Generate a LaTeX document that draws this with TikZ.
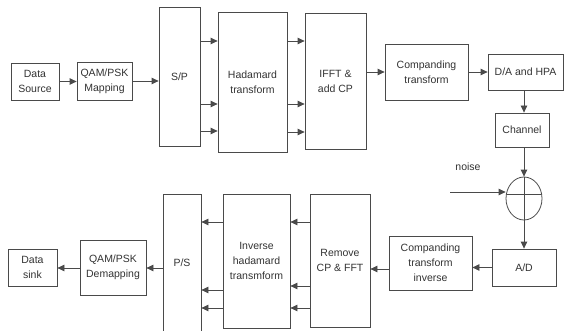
\documentclass[tikz,border=0pt]{standalone}
\usepackage{fontspec}
\setmainfont{Liberation Sans}
\usetikzlibrary{arrows.meta,shapes.geometric}
\definecolor{edge}{HTML}{4A4A4A}
\definecolor{ink}{HTML}{333333}
\begin{document}
\begin{tikzpicture}[x=1pt,y=-1pt,
  blk/.style={draw=edge,line width=0.8pt,rectangle,inner sep=0pt,align=center,
    text=ink,font=\fontsize{10.5}{15}\selectfont},
  arr/.style={draw=edge,line width=0.8pt,-{Triangle[length=7pt,width=6.5pt]}},
  ln/.style={draw=edge,line width=0.8pt}]
\clip (0,0) rectangle (564,331);
\fill[white] (0,0) rectangle (564,331);

% transmitter chain
\node[blk,minimum width=48,minimum height=37] (ds) at (35,81.5) {Data\\Source};
\node[blk,minimum width=55,minimum height=38] (map) at (104.5,81) {QAM/PSK\\Mapping};
\node[blk,minimum width=41,minimum height=139] (sp) at (179.5,76.5) {S/P};
\node[blk,minimum width=69,minimum height=140] (had) at (252.5,82) {Hadamard\\transform};
\node[blk,minimum width=61,minimum height=136] (ifft) at (335.5,81) {IFFT \&\\add CP};
\node[blk,minimum width=83,minimum height=56] (comp) at (426.5,72) {Companding\\transform};
\node[blk,minimum width=75,minimum height=36] (da) at (525.5,72) {D/A and HPA};
\node[blk,minimum width=54,minimum height=34] (ch) at (522,130) {Channel};

% noise adder
\node[draw=edge,line width=0.8pt,ellipse,minimum width=36,minimum height=43,inner sep=0pt] (sum) at (524,198.5) {};
\begin{scope}
  \clip (sum.center) ellipse [x radius=18pt,y radius=21.5pt];
  \draw[ln] (sum.west |- 0,194) -- (sum.east |- 0,194);
\end{scope}
\draw[ln] (sum.north) -- (sum.south);
\node[text=ink,font=\fontsize{10.5}{15}\selectfont] (nzlbl) at (468,167) {noise};
\coordinate (nz) at (450,192);

% receiver chain
\node[blk,minimum width=64,minimum height=37] (ad) at (524,267.5) {A/D};
\node[blk,minimum width=83,minimum height=54] (cinv) at (430.5,263) {Companding\\transform\\inverse};
\node[blk,minimum width=60,minimum height=133] (rem) at (340,260.5) {Remove\\CP \& FFT};
\node[blk,minimum width=67,minimum height=134] (ihad) at (256.5,261) {Inverse\\hadamard\\transmform};
\node[blk,minimum width=38,minimum height=138] (ps) at (182,263) {P/S};
\node[blk,minimum width=66,minimum height=55] (demap) at (113,267.5) {QAM/PSK\\Demapping};
\node[blk,minimum width=49,minimum height=37] (sink) at (32.5,267.5) {Data\\sink};

% transmitter connectors
\draw[arr] (ds.east) -- (ds.east -| map.west);
\draw[arr] (map.east) -- (map.east -| sp.west);
\foreach \yy in {41,104,131}
  \draw[arr] (sp.east |- 0,\yy) -- (had.west |- 0,\yy);
\foreach \yy in {41,104,132}
  \draw[arr] (had.east |- 0,\yy) -- (ifft.west |- 0,\yy);
\draw[arr] (ifft.east |- comp) -- (comp.west);
\draw[arr] (comp.east) -- (da.west);
\draw[arr] (da.south -| sum) -- (ch.north -| sum);
\draw[arr] (ch.south -| sum) -- (sum.north);
\draw[arr] (nz) -- (sum.west |- nz);

% receiver connectors
\draw[arr] (sum.south) -- (ad.north -| sum);
\draw[arr] (ad.west) -- (cinv.east |- ad);
\draw[arr] (cinv.west |- 0,269) -- (rem.east |- 0,269);
\foreach \yy in {222,286,308}
  \draw[arr] (rem.west |- 0,\yy) -- (ihad.east |- 0,\yy);
\foreach \yy in {222,290,308}
  \draw[arr] (ihad.west |- 0,\yy) -- (ps.east |- 0,\yy);
\draw[arr] (ps.west |- 0,268) -- (demap.east |- 0,268);
\draw[arr] (demap.west |- 0,268) -- (sink.east |- 0,268);
\end{tikzpicture}
\end{document}
